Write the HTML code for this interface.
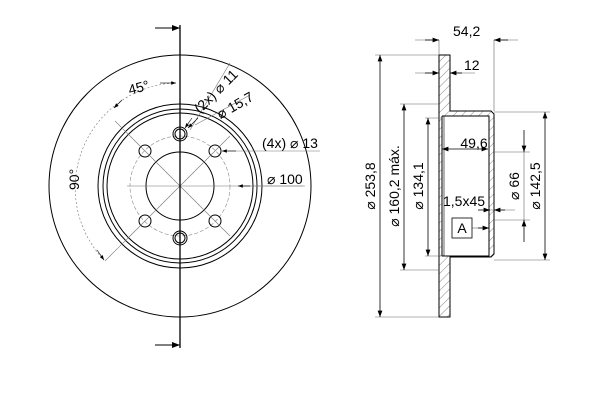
<!DOCTYPE html>
<html><head><style>
html,body{margin:0;padding:0;background:#fff;}
svg{display:block;font-family:"Liberation Sans",sans-serif;}
</style></head><body>
<svg width="600" height="400" viewBox="0 0 600 400" xmlns="http://www.w3.org/2000/svg">
<defs>
<pattern id="h" width="6" height="6" patternUnits="userSpaceOnUse" patternTransform="rotate(45)">
<line x1="0" y1="0" x2="0" y2="6" stroke="#888" stroke-width="1"/></pattern>
<marker id="a" markerWidth="8" markerHeight="6" refX="8" refY="3" orient="auto"><path d="M0,0 L8,3 L0,6z" fill="#000"/></marker>
</defs>
<g fill="none" stroke="#000" stroke-width="1">
<circle cx="180" cy="186" r="131"/>
<circle cx="180" cy="186" r="82"/>
<circle cx="180" cy="186" r="77"/>
<circle cx="180" cy="186" r="73"/>
<circle cx="180" cy="186" r="34"/>
<circle cx="180" cy="186" r="50" stroke="#888" stroke-width="0.6" stroke-dasharray="4,2"/>
<circle cx="180" cy="134" r="7"/><circle cx="180" cy="134" r="5"/>
<circle cx="180" cy="238" r="7"/><circle cx="180" cy="238" r="5"/>
<circle cx="215" cy="151" r="6"/><circle cx="145" cy="151" r="6"/>
<circle cx="215" cy="221" r="6"/><circle cx="145" cy="221" r="6"/>
<g stroke="#777" stroke-width="0.6">
<line x1="127" y1="186" x2="303" y2="186"/>
<line x1="130" y1="136" x2="230" y2="236"/>
<line x1="130" y1="236" x2="230" y2="136"/>
<line x1="115" y1="121" x2="130" y2="136"/>
<line x1="105" y1="261" x2="130" y2="236"/>
<path d="M173,83 A105,105 0 0 0 104,260" stroke-dasharray="2,2"/>
<line x1="190" y1="130" x2="230" y2="63"/>
<line x1="195" y1="125" x2="250" y2="95"/>
<line x1="228" y1="151" x2="320" y2="151"/>
<line x1="240" y1="186" x2="305" y2="186"/>
</g>
<line x1="180" y1="25" x2="180" y2="348" stroke-width="1.3"/>
<line x1="155" y1="28" x2="180" y2="28" marker-end="url(#a)"/>
<line x1="155" y1="345" x2="180" y2="345" marker-end="url(#a)"/>
<line x1="160" y1="83" x2="176" y2="83" marker-end="url(#a)" stroke-width="0.6"/>
<line x1="122" y1="100" x2="114" y2="108" marker-end="url(#a)" stroke-width="0.6"/>
<line x1="97" y1="250" x2="104" y2="260" marker-end="url(#a)" stroke-width="0.6"/>
<line x1="236" y1="151" x2="222" y2="151" marker-end="url(#a)" stroke-width="0.6"/>
<line x1="250" y1="186" x2="238" y2="186" marker-end="url(#a)" stroke-width="0.6"/>
<line x1="198" y1="118" x2="188" y2="128" marker-end="url(#a)" stroke-width="0.6"/>
<line x1="192" y1="118" x2="185" y2="128" marker-end="url(#a)" stroke-width="0.6"/>

<path d="M439,55 H450 V111 H494 V257 H450 V317 H439 Z" fill="url(#h)" stroke="none"/>
<rect x="442" y="116" width="47" height="140" fill="#fff" stroke="none"/>
<path d="M439,55 H450 V111 H491 L494,114 V254 L491,257 H450 V317 H439 Z"/>
<path d="M442,116 H489 V256 H442"/>
<line x1="442" y1="116" x2="442" y2="256"/>
<line x1="444" y1="116" x2="444" y2="256" stroke-width="0.6"/>
<g stroke="#666" stroke-width="0.6">
<line x1="415" y1="40" x2="439" y2="40"/><line x1="494" y1="40" x2="518" y2="40"/>
<line x1="439" y1="40" x2="439" y2="55"/><line x1="494" y1="40" x2="494" y2="111"/>
<line x1="415" y1="73" x2="439" y2="73"/><line x1="450" y1="73" x2="475" y2="73"/>
<line x1="375" y1="55" x2="439" y2="55"/><line x1="375" y1="317" x2="439" y2="317"/>
<line x1="400" y1="104" x2="439" y2="104"/><line x1="400" y1="270" x2="439" y2="270"/>
<line x1="425" y1="118" x2="442" y2="118"/><line x1="425" y1="256" x2="442" y2="256"/>
<line x1="494" y1="112" x2="550" y2="112"/><line x1="494" y1="260" x2="550" y2="260"/>
<line x1="494" y1="152" x2="530" y2="152"/><line x1="494" y1="220" x2="530" y2="220"/>
<line x1="490" y1="210" x2="515" y2="210"/>
<line x1="472" y1="228" x2="486" y2="228"/>
</g>
<g stroke-width="0.8">
<line x1="425" y1="40" x2="439" y2="40" marker-end="url(#a)"/>
<line x1="508" y1="40" x2="494" y2="40" marker-end="url(#a)"/>
<line x1="425" y1="73" x2="439" y2="73" marker-end="url(#a)"/>
<line x1="462" y1="73" x2="450" y2="73" marker-end="url(#a)"/>
<line x1="380" y1="186" x2="380" y2="55" marker-end="url(#a)"/>
<line x1="380" y1="186" x2="380" y2="317" marker-end="url(#a)"/>
<line x1="404" y1="186" x2="404" y2="104" marker-end="url(#a)"/>
<line x1="404" y1="186" x2="404" y2="270" marker-end="url(#a)"/>
<line x1="428" y1="186" x2="428" y2="118" marker-end="url(#a)"/>
<line x1="428" y1="186" x2="428" y2="256" marker-end="url(#a)"/>
<line x1="465" y1="149" x2="442" y2="149" marker-end="url(#a)"/>
<line x1="465" y1="149" x2="488" y2="149" marker-end="url(#a)"/>
<line x1="545" y1="186" x2="545" y2="112" marker-end="url(#a)"/>
<line x1="545" y1="186" x2="545" y2="260" marker-end="url(#a)"/>
<line x1="524" y1="130" x2="524" y2="152" marker-end="url(#a)"/>
<line x1="524" y1="242" x2="524" y2="220" marker-end="url(#a)"/>
<line x1="524" y1="152" x2="524" y2="220" stroke="#666" stroke-width="0.6"/>
<line x1="478" y1="210" x2="490" y2="210" marker-end="url(#a)"/>
<line x1="505" y1="210" x2="494" y2="210" marker-end="url(#a)"/>
<line x1="478" y1="228" x2="489" y2="228" marker-end="url(#a)"/>
</g>
<rect x="452" y="218" width="20" height="20" stroke-width="0.8"/>
</g>
<g font-size="14" fill="#000">
<text x="128" y="92" transform="rotate(-15 140 87)">45°</text>
<text x="72" y="197" transform="rotate(-90 72 190)">90°</text>
<text x="190" y="110" transform="rotate(-45 200 100)">(2x) ⌀ 11</text>
<text x="212" y="112" transform="rotate(-30 230 100)">⌀ 15,7</text>
<text x="262" y="148">(4x) ⌀ 13</text>
<text x="267" y="184">⌀ 100</text>
<text x="453" y="36">54,2</text>
<text x="464" y="70">12</text>
<text x="474" y="148" text-anchor="middle">49,6</text>
<text x="443" y="206">1,5x45</text>
<text x="462" y="233" text-anchor="middle">A</text>
<text transform="translate(375,186) rotate(-90)" text-anchor="middle">⌀ 253,8</text>
<text transform="translate(399,186) rotate(-90)" text-anchor="middle">⌀ 160,2 máx.</text>
<text transform="translate(423,186) rotate(-90)" text-anchor="middle">⌀ 134,1</text>
<text transform="translate(519,186) rotate(-90)" text-anchor="middle">⌀ 66</text>
<text transform="translate(540,186) rotate(-90)" text-anchor="middle">⌀ 142,5</text>
</g>
</svg>
</body></html>
